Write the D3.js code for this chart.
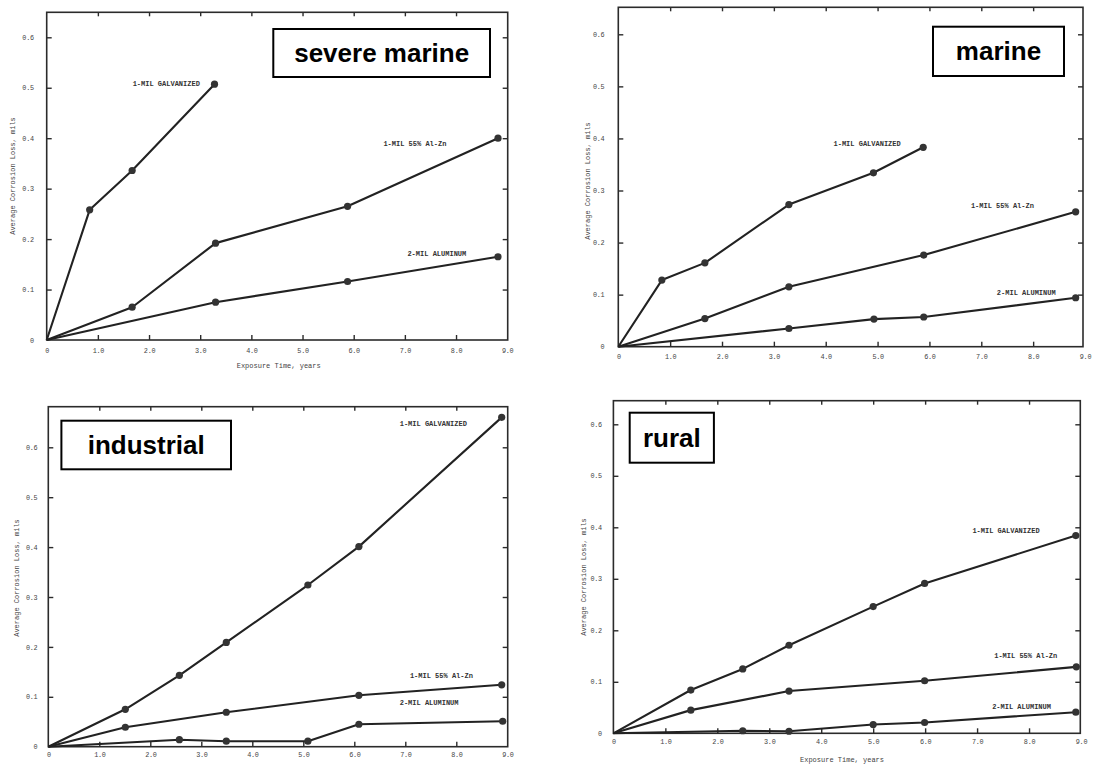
<!DOCTYPE html>
<html>
<head>
<meta charset="utf-8">
<script src="https://cdn.jsdelivr.net/npm/d3@7"></script>
<style>
  body { margin: 0; background: #fff; }
  svg { display: block; }
</style>
</head>
<body>
<svg id="chart" width="1093" height="765"></svg>
<script>
// values: [exposure years, corrosion loss mils]
const severeGalvanized = [[0,0],[0.84,0.258],[1.67,0.336],[3.28,0.507]];
const severeAlZn       = [[0,0],[1.67,0.065],[3.30,0.192],[5.88,0.265],[8.82,0.400]];
const severeAluminum   = [[0,0],[3.30,0.075],[5.88,0.116],[8.82,0.165]];

const marineGalvanized = [[0,0],[0.84,0.128],[1.67,0.161],[3.29,0.273],[4.92,0.334],[5.88,0.383]];
const marineAlZn       = [[0,0],[1.67,0.054],[3.29,0.115],[5.89,0.176],[8.82,0.259]];
const marineAluminum   = [[0,0],[3.29,0.035],[4.93,0.053],[5.89,0.057],[8.82,0.094]];

const industrialGalvanized = [[0,0],[1.51,0.075],[2.57,0.143],[3.49,0.209],[5.09,0.324],[6.09,0.401],[8.89,0.660]];
const industrialAlZn       = [[0,0],[1.51,0.039],[3.49,0.069],[6.09,0.103],[8.89,0.124]];
const industrialAluminum   = [[0,0],[2.57,0.014],[3.49,0.011],[5.09,0.011],[6.09,0.045],[8.91,0.051]];

const ruralGalvanized = [[0,0],[1.49,0.084],[2.49,0.125],[3.38,0.171],[5.00,0.246],[5.99,0.291],[8.90,0.384]];
const ruralAlZn       = [[0,0],[1.49,0.045],[3.38,0.082],[5.99,0.102],[8.91,0.129]];
const ruralAluminum   = [[0,0],[2.49,0.005],[3.38,0.004],[5.00,0.017],[5.99,0.021],[8.90,0.041]];

const seriesNames = ["1-MIL GALVANIZED", "1-MIL 55% Al-Zn", "2-MIL ALUMINUM"];
const xTicks = [0,1,2,3,4,5,6,7,8,9];
const yTicks = [0,0.1,0.2,0.3,0.4,0.5,0.6];
const yTitle = "Average Corrosion Loss, mils";
const xTitle = "Exposure Time, years";

// panel placement (pixels) and where each series label sits (in data units)
var panels = [
  {name: "severe marine", series: [severeGalvanized, severeAlZn, severeAluminum],
   labels: [[1.68,0.503],[6.58,0.384],[7.05,0.166]],
   left: 46.7, x9: 507.2, bottom: 340, y06: 37.3, top: 12.3, right: 507.7,
   box: [273.3, 29, 490, 77], yT: [13, 176], xT: [278.7, 368], yGap: 13, xDy: 13},
  {name: "marine", series: [marineGalvanized, marineAlZn, marineAluminum],
   labels: [[4.15,0.386],[6.80,0.266],[7.30,0.0996]],
   left: 618.3, x9: 1085, bottom: 346.7, y06: 34.3, top: 7.3, right: 1083,
   box: [933, 26.7, 1064, 76], yT: [587.5, 181], xT: null, yGap: 14, xDy: 12},
  {name: "industrial", series: [industrialGalvanized, industrialAlZn, industrialAluminum],
   labels: [[6.89,0.642],[7.09,0.138],[6.89,0.083]],
   left: 48.3, x9: 507.3, bottom: 746.7, y06: 447.3, top: 406.7, right: 507.7,
   box: [61.4, 420.7, 231, 469.3], yT: [16.7, 578], xT: null, yGap: 11, xDy: 10.5},
  {name: "rural", series: [ruralGalvanized, ruralAlZn, ruralAluminum],
   labels: [[6.91,0.389],[7.33,0.146],[7.29,0.048]],
   left: 613.4, x9: 1081, bottom: 733.3, y06: 424.3, top: 400.7, right: 1080.3,
   box: [629.7, 412.7, 713.9, 462.7], yT: [584, 577], xT: [842, 762], yGap: 11.5, xDy: 10.5}
];

const mono = "'Liberation Mono', 'DejaVu Sans Mono', monospace";
const svg = d3.select("#chart");

panels.forEach(function(p) {
    var x = d3.scaleLinear().domain([0, 9]).range([p.left, p.x9]);
    var y = d3.scaleLinear().domain([0, 0.6]).range([p.bottom, p.y06]);
    var g = svg.append("g");

    // frame
    g.append("rect")
        .attr("x", p.left).attr("y", p.top)
        .attr("width", p.right - p.left).attr("height", p.bottom - p.top)
        .attr("fill", "none").attr("stroke", "#2b2b2b").attr("stroke-width", 1.6);

    var fmt = function(d){ return d === 0 ? "0" : d3.format(".1f")(d); };

    // bottom + left axes, ticks pointing inward
    var bx = g.append("g").attr("transform", "translate(0," + p.bottom + ")")
        .call(d3.axisBottom(x).tickValues(xTicks).tickFormat(fmt).tickSize(-5).tickPadding(p.xDy - 5));
    var ly = g.append("g").attr("transform", "translate(" + p.left + ",0)")
        .call(d3.axisLeft(y).tickValues(yTicks).tickFormat(fmt).tickSize(-5).tickPadding(p.yGap));
    // top + right, marks only
    var tx = g.append("g").attr("transform", "translate(0," + p.top + ")")
        .call(d3.axisTop(x).tickValues(xTicks.slice(1, -1)).tickFormat("").tickSize(-4));
    var ry = g.append("g").attr("transform", "translate(" + p.right + ",0)")
        .call(d3.axisRight(y).tickValues(yTicks.slice(1)).tickFormat("").tickSize(-5));

    [bx, ly, tx, ry].forEach(function(a) {
        a.select(".domain").remove();
        a.selectAll(".tick line").attr("stroke", "#2b2b2b").attr("stroke-width", 1.4);
        a.selectAll(".tick text")
            .attr("font-family", mono).attr("font-size", "6.8px")
            .attr("letter-spacing", "-0.3px").attr("fill", "#444");
    });
    bx.selectAll(".tick").filter(function(d){ return d === 0 || d === 9; }).select("line").remove();
    ly.selectAll(".tick").filter(function(d){ return d === 0; }).select("line").remove();

    // axis titles
    g.append("text")
        .attr("transform", "translate(" + p.yT[0] + "," + p.yT[1] + ") rotate(-90)")
        .attr("text-anchor", "middle").attr("dy", "0.32em")
        .attr("font-family", mono).attr("font-size", "7px").attr("fill", "#444")
        .text(yTitle);
    if (p.xT) {
        g.append("text")
            .attr("x", p.xT[0]).attr("y", p.xT[1])
            .attr("text-anchor", "middle")
            .attr("font-family", mono).attr("font-size", "7px").attr("fill", "#444")
            .text(xTitle);
    }

    // lines and markers
    var line = d3.line().x(function(d){ return x(d[0]); }).y(function(d){ return y(d[1]); });
    p.series.forEach(function(s, i) {
        g.append("path")
            .datum(s)
            .attr("fill", "none").attr("stroke", "#222").attr("stroke-width", 2.1)
            .attr("stroke-linejoin", "round")
            .attr("d", line);
        g.selectAll(null)
            .data(s.slice(1))
            .enter().append("circle")
            .attr("cx", function(d){ return x(d[0]); })
            .attr("cy", function(d){ return y(d[1]); })
            .attr("r", 3.6)
            .attr("fill", "#333");
        g.append("text")
            .attr("x", x(p.labels[i][0])).attr("y", y(p.labels[i][1]))
            .attr("font-family", mono).attr("font-size", "7px").attr("font-weight", "bold")
            .attr("fill", "#333")
            .text(seriesNames[i]);
    });

    // environment box
    var b = p.box;
    g.append("rect")
        .attr("x", b[0]).attr("y", b[1])
        .attr("width", b[2] - b[0]).attr("height", b[3] - b[1])
        .attr("fill", "#fff").attr("stroke", "#000").attr("stroke-width", 2);
    g.append("text")
        .attr("x", (b[0] + b[2]) / 2).attr("y", (b[1] + b[3]) / 2 + 9)
        .attr("text-anchor", "middle")
        .attr("font-family", "'Liberation Sans', Arial, sans-serif")
        .attr("font-size", "26px").attr("font-weight", "bold").attr("fill", "#000")
        .text(p.name);
});
</script>
</body>
</html>
